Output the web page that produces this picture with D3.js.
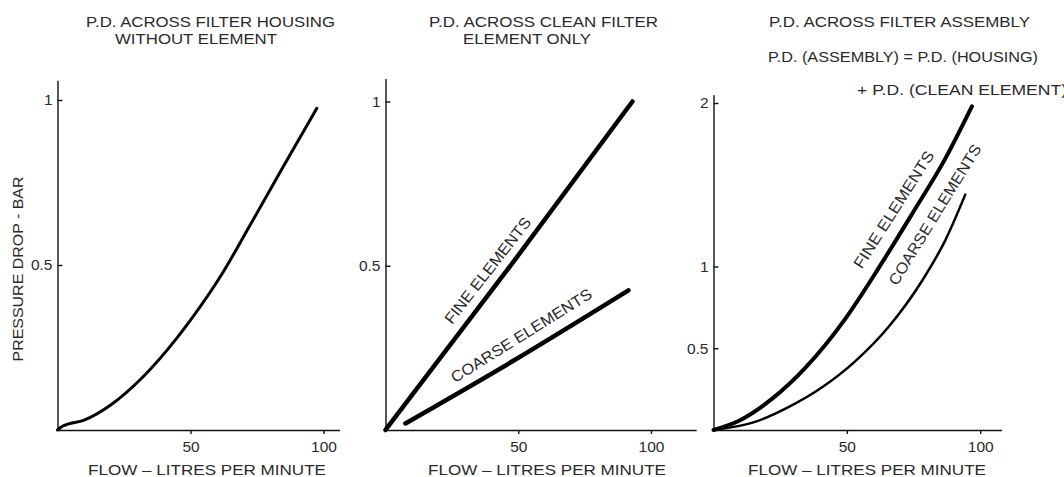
<!DOCTYPE html>
<html>
<head>
<meta charset="utf-8">
<script src="https://cdn.jsdelivr.net/npm/d3@7"></script>
<style>
  body { margin: 0; background: #fff; }
  text { font-family: "Liberation Sans", Arial, sans-serif; fill: #2a2a2a; }
  .axis path, .axis line { stroke: #111; stroke-width: 1.4; }
  .curve { fill: none; stroke: #000; stroke-linecap: round; stroke-linejoin: round; }
</style>
</head>
<body>
<div id="chart"></div>
<script>
// pressure drop data (flow in l/min, pd in bar)
var housingFlow = [0, 2, 10, 20, 32, 45, 50, 62, 72, 85, 97.5];
var housingPD   = [0, 0.012, 0.03, 0.076, 0.16, 0.28, 0.333, 0.475, 0.615, 0.8, 0.975];

var fineElemFlow   = [0, 48, 93];
var fineElemPD     = [0, 0.51, 1.0];
var coarseElemFlow = [7.5, 48, 91.5];
var coarseElemPD   = [0.02, 0.21, 0.425];

var fineAsmFlow   = [0, 9.4, 21.9, 34.4, 49.4, 61.9, 74.4, 86.9, 96.9];
var fineAsmPD     = [0, 0.055, 0.19, 0.38, 0.68, 0.99, 1.32, 1.66, 1.98];
var coarseAsmFlow = [0, 15.6, 28.1, 40.6, 53.1, 65.6, 78.1, 86.9, 94.4];
var coarseAsmPD   = [0, 0.05, 0.14, 0.26, 0.42, 0.63, 0.91, 1.16, 1.44];

var xTicks = [50, 100];
var yTicks1 = [0.5, 1];
var yTicks2 = [0.5, 1];
var yTicks3 = [0.5, 1, 2];

var xTitle = "FLOW \u2013 LITRES PER MINUTE";
var yTitle = "PRESSURE DROP - BAR";

function zip(xs, ys) { return xs.map(function(d, i) { return [d, ys[i]]; }); }

var W = 1064, H = 477;
var svg = d3.select("#chart").append("svg")
    .attr("width", W)
    .attr("height", H);

// panel layout
var panels = [
  { x0: 57.5, xUnit: 2.66, xMax: 106, yUnit: 330, yMax: 1.06, yTicks: yTicks1, titleCx: 207,
    series: [ { d: zip(housingFlow, housingPD), w: 3 } ], labels: [] },
  { x0: 385.5, xUnit: 2.655, xMax: 117, yUnit: 328.5, yMax: 1.07, yTicks: yTicks2, titleCx: 547,
    series: [ { d: zip(fineElemFlow, fineElemPD), w: 4.5 },
              { d: zip(coarseElemFlow, coarseElemPD), w: 4.5 } ],
    labels: [ { t: "FINE ELEMENTS", at: [25, 0.32], a: -52, len: 130 },
              { t: "COARSE ELEMENTS", at: [26.2, 0.142], a: -32, len: 163 } ] },
  { x0: 713.5, xUnit: 2.667, xMax: 108, yUnit: 163.5, yMax: 2.05, yTicks: yTicks3, titleCx: 867,
    series: [ { d: zip(fineAsmFlow, fineAsmPD), w: 4 },
              { d: zip(coarseAsmFlow, coarseAsmPD), w: 2.5 } ],
    labels: [ { t: "FINE ELEMENTS", at: [55.6, 0.98], a: -57.5, len: 136 },
              { t: "COARSE ELEMENTS", at: [68.8, 0.878], a: -58.4, len: 162 } ] }
];

var y0 = 430;

panels.forEach(function(p) {
  var x = d3.scaleLinear().domain([0, p.xMax]).range([p.x0, p.x0 + p.xMax * p.xUnit]);
  var y = d3.scaleLinear().domain([0, p.yMax]).range([y0, y0 - p.yMax * p.yUnit]);

  // x axis
  svg.append("g")
      .attr("class", "axis")
      .attr("transform", "translate(0," + y0 + ")")
      .call(d3.axisBottom(x).tickValues(xTicks).tickSizeInner(4).tickSizeOuter(0).tickPadding(7))
      .call(function(g) { g.selectAll("text").attr("font-size", 15.5).attr("font-family", null).attr("fill", null); });

  // y axis, ticks pointing inwards
  svg.append("g")
      .attr("class", "axis")
      .attr("transform", "translate(" + p.x0 + ",0)")
      .call(d3.axisLeft(y).tickValues(p.yTicks).tickSizeInner(-5).tickSizeOuter(0).tickPadding(5)
              .tickFormat(function(d) { return d; }))
      .call(function(g) { g.selectAll("text").attr("font-size", 15.5).attr("font-family", null).attr("fill", null); });

  var line = d3.line()
      .x(function(d) { return x(d[0]); })
      .y(function(d) { return y(d[1]); })
      .curve(d3.curveMonotoneX);

  p.series.forEach(function(s) {
    svg.append("path")
        .attr("class", "curve")
        .attr("stroke-width", s.w)
        .attr("d", line(s.d));
  });

  p.labels.forEach(function(l) {
    svg.append("text")
        .attr("transform", "translate(" + x(l.at[0]) + "," + y(l.at[1]) + ") rotate(" + l.a + ")")
        .attr("font-size", 15.5)
        .attr("textLength", l.len)
        .attr("lengthAdjust", "spacingAndGlyphs")
        .text(l.t);
  });

  svg.append("text")
      .attr("x", p.titleCx)
      .attr("y", 475)
      .attr("text-anchor", "middle")
      .attr("font-size", 15.5)
      .attr("textLength", 238)
      .attr("lengthAdjust", "spacingAndGlyphs")
      .text(xTitle);
});

// y axis title
svg.append("text")
    .attr("transform", "translate(23,269) rotate(-90)")
    .attr("text-anchor", "middle")
    .attr("font-size", 15)
    .attr("textLength", 185)
    .attr("lengthAdjust", "spacingAndGlyphs")
    .text(yTitle);

// panel headings
var headings = [
  { t: "P.D. ACROSS FILTER HOUSING", x: 86, y: 26.5, len: 249 },
  { t: "WITHOUT ELEMENT", x: 115, y: 43.5, len: 162 },
  { t: "P.D. ACROSS CLEAN FILTER", x: 429, y: 26.5, len: 229 },
  { t: "ELEMENT ONLY", x: 463, y: 43.5, len: 128 },
  { t: "P.D. ACROSS FILTER ASSEMBLY", x: 769, y: 26.5, len: 261 },
  { t: "P.D. (ASSEMBLY) = P.D. (HOUSING)", x: 768, y: 61.5, len: 270 },
  { t: "+ P.D. (CLEAN ELEMENT)", x: 857, y: 94.5, len: 210 }
];
svg.selectAll(".heading")
  .data(headings)
  .enter().append("text")
    .attr("class", "heading")
    .attr("x", function(d) { return d.x; })
    .attr("y", function(d) { return d.y; })
    .attr("font-size", 15.5)
    .attr("textLength", function(d) { return d.len; })
    .attr("lengthAdjust", "spacingAndGlyphs")
    .text(function(d) { return d.t; });
</script>
</body>
</html>
